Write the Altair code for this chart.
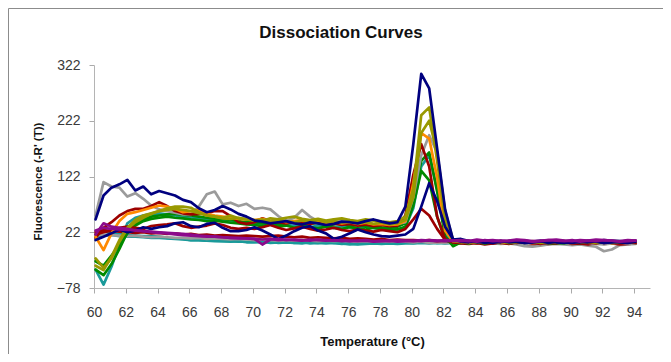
import altair as alt
import pandas as pd

# Temperature grid (°C)
temps = [60.1, 60.6, 61.1, 61.6, 62.1, 62.6, 63.1, 63.6, 64.1, 64.6,
         65.1, 65.6, 66.1, 66.6, 67.1, 67.6, 68.1, 68.6, 69.1, 69.6,
         70.1, 70.6, 71.1, 71.6, 72.1, 72.6, 73.1, 73.6, 74.1, 74.6,
         75.1, 75.6, 76.1, 76.6, 77.1, 77.6, 78.1, 78.6, 79.1, 79.6,
         80.1, 80.6, 81.1, 81.6, 82.1, 82.6,
         83.1, 83.6, 84.1, 84.6, 85.1, 85.6, 86.1, 86.6, 87.1, 87.6,
         88.1, 88.6, 89.1, 89.6, 90.1, 90.6, 91.1, 91.6, 92.1, 92.6,
         93.1, 93.6, 94.1]

x_ticks = [60, 62, 64, 66, 68, 70, 72, 74, 76, 78, 80, 82, 84, 86, 88, 90, 92, 94]
y_ticks = [-78, 22, 122, 222, 322]

teal_c = [14, 16, 17, 15, 14, 14, 13, 12, 12, 11, 10, 9, 8, 8, 7, 7, 6, 6, 5, 5,
          5, 4, 5, 3, 4, 3, 4, 2, 3, 2, 3, 1, 2, 0, 1, 2, 1, 2, 1, 2,
          2, 3, 2, 3, 2, 3,
          3, 4, 3, 5, 4, 3, 5, 4, 3, 4, 5, 3, 4, 5, 6, 4, 5, 6, 5, 7, 6, 5, 6]
teal_b = [18, 25, 18, 19, 17, 16, 15, 15, 14, 12, 11, 10, 8, 8, 7, 6, 6, 5, 6, 4,
          4, 5, 3, 4, 5, 3, 2, 4, 3, 5, 3, 2, 0, 1, 3, 2, 4, 3, 2, 4,
          3, 4, 5, 3, 4, 5,
          4, 6, 5, 7, 4, 6, 5, 4, 6, 5, 7, 5, 4, 6, 5, 7, 6, 5, 8, 6, 5, 7, 6]
gray_b = [16, 18, 17, 16, 15, 16, 14, 13, 14, 13, 12, 12, 11, 12, 10, 11, 10, 9, 10, 9,
          8, 9, 8, 7, 8, 7, 8, 7, 6, 7, 6, 7, 6, 5, 6, 5, 6, 5, 6, 5,
          4, 5, 3, 4, 3, 4,
          3, 4, 2, 3, 2, 1, 2, 0, -3, -4, -2, 0, 1, 0, -1, 0, -2, -4, -12, -9, -1, 0, 1]
red_c = [22, 26, 24, 23, 22, 21, 22, 20, 21, 19, 20, 18, 19, 17, 18, 16, 17, 16, 15, 16,
         15, 14, 15, 16, 14, 13, 14, 12, 13, 12, 11, 12, 10, 11, 10, 9, 10, 8, 9, 8,
         8, 7, 8, 6, 7, 5,
         2, 1, 3, 0, 2, 4, 1, 3, 2, 0, 3, 1, 2, 4, 1, 2, 0, 3, 1, 2, 0, 1, 2]
teal_a = [-45, -72, -40, 0, 38, 48, 52, 55, 56, 54, 52, 50, 48, 47, 45, 44, 42, 41, 40, 38,
          37, 35, 38, 34, 36, 33, 35, 31, 34, 32, 30, 33, 31, 29, 32, 30, 28, 29, 27, 31,
          65, 140, 160, 100, 20, 3,
          5, 3, 4, 6, 3, 5, 4, 3, 6, 4, 5, 3, 6, 4, 5, 7, 4, 5, 3, 6, 5, 4, 6]
green_b = [-30, -38, -20, 0, 20, 34, 42, 46, 48, 50, 48, 47, 45, 44, 42, 43, 41, 39, 38, 36,
           35, 33, 36, 32, 34, 30, 33, 31, 29, 32, 30, 28, 31, 29, 27, 30, 28, 26, 27, 32,
           70, 132, 115, 50, 8, 2,
           3, 5, 4, 2, 4, 3, 5, 4, 2, 3, 4, 5, 3, 2, 4, 5, 3, 4, 2, 3, 5, 4, 3]
green_a = [-45, -55, -35, -8, 22, 38, 45, 50, 52, 54, 55, 53, 52, 50, 48, 47, 46, 44, 42, 40,
           40, 38, 41, 36, 38, 40, 35, 37, 39, 34, 36, 38, 33, 35, 32, 34, 31, 30, 32, 38,
           80, 150, 165, 95, 15, -3,
           4, 2, 5, 3, 4, 6, 2, 4, 3, 5, 4, 2, 3, 5, 4, 3, 5, 2, 4, 3, 5, 4, 3]
gray_a = [52, 112, 104, 102, 86, 92, 82, 70, 63, 60, 57, 54, 54, 68, 90, 95, 72, 75, 69, 73,
          64, 66, 63, 51, 42, 48, 62, 50, 42, 37, 45, 42, 44, 40, 42, 36, 38, 36, 37, 40,
          85, 160, 196, 165, 55, 6,
          4, 5, 3, 4, 5, 3, 4, 2, 1, 0, 2, 3, 4, 3, 2, 4, 3, 1, 0, 2, 3, 1, 2]
red_b = [18, 22, 25, 30, 32, 30, 28, 33, 35, 36, 38, 33, 30, 32, 34, 38, 35, 30, 28, 30,
         28, 31, 35, 30, 26, 29, 32, 28, 25, 27, 30, 26, 24, 27, 25, 23, 26, 24, 22, 28,
         45, 64, 52, 28, 8, 4,
         3, 5, 2, 4, 6, 3, 2, 4, 5, 3, 1, 4, 3, 5, 2, 3, 4, 2, 5, 3, 2, 4, 3]
red_a = [12, 30, 40, 52, 60, 64, 64, 69, 76, 69, 60, 56, 54, 55, 56, 60, 60, 51, 40, 37,
         40, 47, 42, 40, 38, 41, 39, 37, 40, 36, 38, 35, 37, 34, 36, 33, 35, 33, 34, 52,
         125, 180, 140, 50, 10, 4,
         4, 6, 3, 5, 2, 4, 6, 3, 5, 2, 4, 3, 5, 6, 3, 4, 2, 5, 3, 4, 2, 3, 4]
orange = [14, -10, 20, 42, 55, 58, 62, 66, 70, 68, 64, 58, 60, 62, 55, 52, 50, 48, 46, 45,
          44, 46, 42, 45, 40, 42, 44, 41, 43, 39, 41, 38, 40, 37, 39, 36, 37, 35, 36, 42,
          110, 200, 190, 120, 25, 6,
          5, 3, 6, 4, 5, 3, 4, 6, 5, 3, 4, 5, 6, 4, 3, 5, 6, 4, 5, 3, 4, 6, 5]
olive_b = [-38, -46, -22, 8, 30, 44, 52, 56, 60, 62, 64, 62, 60, 56, 52, 50, 47, 46, 48, 45,
           43, 45, 41, 44, 42, 40, 43, 41, 44, 40, 42, 39, 41, 38, 40, 37, 39, 36, 38, 44,
           85, 200, 222, 165, 60, 8,
           5, 6, 4, 3, 5, 6, 4, 5, 3, 6, 4, 5, 4, 6, 3, 5, 4, 6, 5, 3, 4, 5, 6]
olive_a = [-25, -42, -25, 5, 28, 40, 48, 55, 60, 65, 68, 68, 66, 58, 52, 50, 48, 52, 47, 45,
           44, 42, 47, 45, 48, 50, 46, 44, 46, 43, 45, 47, 44, 42, 45, 43, 41, 40, 42, 50,
           100, 232, 246, 150, 45, 6,
           4, 5, 3, 6, 4, 5, 3, 4, 6, 5, 3, 4, 5, 3, 6, 4, 5, 3, 4, 6, 5, 4, 5]
navy_b = [8, 14, 20, 27, 22, 25, 31, 28, 31, 33, 38, 40, 33, 31, 37, 39, 30, 24, 24, 26,
          31, 25, 18, 10, 16, 24, 30, 33, 25, 20, 10, 14, 20, 27, 22, 18, 15, 14, 16, 18,
          28, 68, 110, 78, 32, 10,
          5, 4, 6, 3, 5, 4, 6, 5, 3, 4, 5, 6, 4, 3, 5, 4, 6, 5, 3, 4, 5, 4, 6]
navy_a = [45, 88, 102, 108, 116, 97, 104, 90, 96, 92, 88, 80, 76, 65, 58, 62, 69, 63, 55, 50,
          43, 41, 38, 40, 42, 38, 36, 40, 38, 35, 37, 41, 40, 38, 42, 45, 41, 38, 40, 68,
          180, 306, 280, 172, 63, 9,
          10, 6, 4, 5, 3, 6, 4, 5, 3, 4, 6, 3, 5, 4, 3, 5, 4, 6, 3, 5, 4, 3, 5]
purple_b = [25, 30, 28, 27, 26, 26, 24, 23, 22, 21, 20, 19, 18, 16, 15, 14, 13, 12, 11, 11,
            10, 9, 10, 8, 9, 8, 7, 9, 8, 7, 8, 6, 7, 6, 7, 5, 6, 7, 5, 6,
            7, 6, 8, 7, 6, 7,
            6, 7, 5, 8, 6, 7, 6, 8, 7, 5, 6, 8, 7, 6, 8, 5, 7, 6, 8, 7, 5, 6, 7]
purple_a = [18, 38, 32, 30, 28, 25, 24, 22, 21, 20, 18, 17, 16, 15, 14, 14, 13, 12, 12, 11,
            10, 0, 9, 10, 8, 9, 8, 7, 9, 8, 7, 8, 6, 7, 8, 6, 7, 6, 8, 7,
            6, 8, 7, 6, 8, 7,
            8, 6, 9, 7, 8, 6, 7, 9, 8, 6, 7, 8, 9, 7, 6, 8, 7, 9, 8, 7, 6, 8, 7]

series_names = ["teal_c", "teal_b", "gray_b", "red_c", "teal_a", "green_b", "green_a",
                "gray_a", "red_b", "red_a", "orange", "olive_b", "olive_a",
                "navy_b", "navy_a", "purple_b", "purple_a"]
series_values = [teal_c, teal_b, gray_b, red_c, teal_a, green_b, green_a,
                 gray_a, red_b, red_a, orange, olive_b, olive_a,
                 navy_b, navy_a, purple_b, purple_a]
series_colors = ["#1A9A9A", "#1A9A9A", "#9B9B9B", "#9C0000", "#1A9A9A", "#008A00", "#008A00",
                 "#9B9B9B", "#9C0000", "#9C0000", "#FF8A00", "#999900", "#999900",
                 "#00007F", "#00007F", "#8B0A8B", "#8B0A8B"]

rows = []
for order, (name, vals) in enumerate(zip(series_names, series_values)):
    for t, v in zip(temps, vals):
        rows.append({"series": name, "order": order, "temp": t, "value": v})
df = pd.DataFrame(rows)

W, H = 556, 223
FONT = "Liberation Sans"

lines = alt.Chart(df).mark_line(strokeWidth=2.7, strokeJoin="round", strokeCap="round").encode(
    x=alt.X("temp:Q",
            scale=alt.Scale(domain=[60, 95], nice=False, zero=False),
            axis=alt.Axis(values=x_ticks, format="d", grid=False,
                          labelFont=FONT, labelFontSize=14, labelColor="#3A3A3A",
                          labelPadding=12, labelFlush=False, labelOverlap=False,
                          tickSize=5, tickColor="#AAAAAA", domainColor="#B4B4B4",
                          title="Temperature (°C)", titleFont=FONT, titleFontSize=13,
                          titleFontWeight="bold", titleColor="#111111",
                          titleX=W / 2, titleY=57, titleAlign="center",
                          titleBaseline="alphabetic")),
    y=alt.Y("value:Q",
            scale=alt.Scale(domain=[-78, 322], nice=False, zero=False),
            axis=alt.Axis(values=y_ticks, grid=False,
                          labelFont=FONT, labelFontSize=14, labelColor="#3A3A3A",
                          labelPadding=9, labelFlush=False, labelOverlap=False,
                          tickSize=5, tickColor="#AAAAAA", domainColor="#B4B4B4",
                          title="Fluorescence (-R' (T))", titleFont=FONT, titleFontSize=11.5,
                          titleFontWeight="bold", titleColor="#111111",
                          titleAngle=270, titleX=-56, titleY=116, titleAlign="center",
                          titleBaseline="middle")),
    color=alt.Color("series:N",
                    scale=alt.Scale(domain=series_names, range=series_colors),
                    legend=None),
    order=alt.Order("order:Q"),
)

frame = alt.Chart(alt.Data(values=[{"k": 1}])).mark_rect(
    fill=None, stroke="#8C8C8C", strokeWidth=1
).encode(
    x=alt.value(-85.5), x2=alt.value(W + 200),
    y=alt.value(-56.5), y2=alt.value(H + 200),
)

chart = alt.layer(lines, frame).properties(
    width=W, height=H,
    padding={"left": 86, "top": 57, "right": 13, "bottom": 66},
    autosize=alt.AutoSizeParams(type="none"),
    background="white",
    title=alt.TitleParams("Dissociation Curves", font=FONT, fontSize=17,
                          fontWeight="bold", color="#111111", anchor="middle",
                          baseline="alphabetic", dx=-31, dy=47, offset=0),
).configure_view(stroke=None)

chart.save("out.html", embed_options={"renderer": "svg", "actions": False})
